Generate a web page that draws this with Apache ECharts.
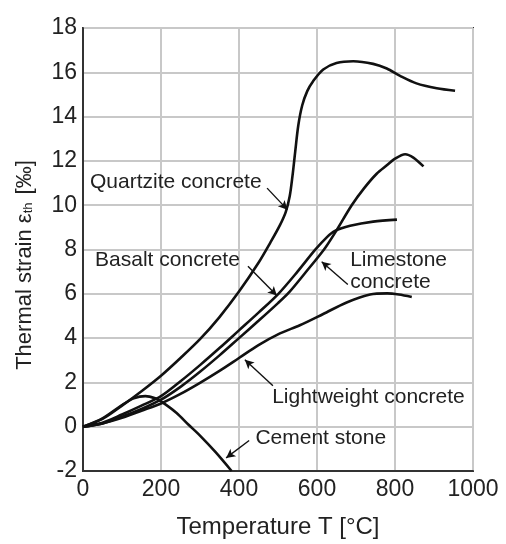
<!DOCTYPE html>
<html>
<head>
<meta charset="utf-8">
<script src="https://cdn.jsdelivr.net/npm/echarts@6/dist/echarts.min.js"></script>
<style>html,body{margin:0;padding:0;background:#fff;}#c{width:506px;height:544px;}</style>
</head>
<body>
<div id="c"></div>
<script>
// ---- data (temperature °C, thermal strain ‰) ----
const xTicks = [0, 200, 400, 600, 800, 1000];
const yTicks = [-2, 0, 2, 4, 6, 8, 10, 12, 14, 16, 18];

const quartziteT = [0, 50, 100, 150, 200, 250, 300, 350, 400, 450, 480, 505, 520, 530, 537, 544, 552, 562, 575, 590, 616, 650, 693, 744, 779, 813, 855, 907, 954];
const quartziteS = [0, 0.35, 0.95, 1.6, 2.3, 3.1, 3.95, 4.95, 6.1, 7.4, 8.3, 9.1, 9.7, 10.4, 11.3, 12.4, 13.6, 14.5, 15.15, 15.6, 16.13, 16.42, 16.5, 16.38, 16.17, 15.84, 15.5, 15.28, 15.17];

const basaltT = [0, 50, 100, 150, 200, 250, 300, 350, 400, 450, 501, 550, 595, 625, 646, 685, 744, 805];
const basaltS = [0, 0.18, 0.55, 0.95, 1.38, 2.05, 2.78, 3.55, 4.35, 5.15, 6.0, 7.0, 7.98, 8.55, 8.84, 9.07, 9.26, 9.35];

const limestoneT = [0, 50, 100, 150, 200, 250, 300, 350, 400, 450, 500, 530, 570, 618, 646, 689, 720, 753, 779, 800, 826, 847, 873];
const limestoneS = [0, 0.15, 0.45, 0.8, 1.22, 1.8, 2.48, 3.22, 4.0, 4.78, 5.58, 6.1, 6.95, 8.0, 8.75, 10.0, 10.75, 11.42, 11.8, 12.1, 12.3, 12.15, 11.75];

const lightweightT = [0, 50, 100, 150, 200, 250, 300, 350, 400, 450, 505, 556, 616, 676, 736, 780, 810, 843];
const lightweightS = [0, 0.15, 0.4, 0.72, 1.05, 1.48, 1.98, 2.52, 3.1, 3.68, 4.21, 4.58, 5.09, 5.61, 5.97, 6.02, 5.97, 5.86];

const cementT = [0, 50, 100, 130, 160, 185, 202, 240, 270, 300, 340, 381];
const cementS = [0, 0.38, 0.98, 1.28, 1.38, 1.28, 1.12, 0.62, 0.1, -0.4, -1.15, -2.0];

// annotation labels, anchored (left-middle) in data units [T, strain]
const labelNames = ['Quartzite concrete', 'Basalt concrete', 'Limestone', 'concrete', 'Lightweight concrete', 'Cement stone'];
const labelAnchors = [[18, 11.04], [31, 7.5], [685, 7.5], [685, 6.53], [485, 1.32], [442, -0.53]];
// leader lines: from [T,s] to [T,s] (arrow at end)
const leaderFrom = [[472, 10.77], [423, 7.24], [679, 6.42], [487, 1.85], [426, -0.62]];
const leaderTo   = [[524, 9.8], [497, 5.92], [612, 7.45], [415, 3.02], [367, -1.41]];

const zip = (a, b) => a.map((v, i) => [v, b[i]]);

const chart = echarts.init(document.getElementById('c'), null, {renderer: 'canvas'});
const FONT = 'Liberation Sans, Arial, sans-serif';
const curve = (name, T, S) => ({
  name: name, type: 'line', data: zip(T, S), smooth: 0.3,
  symbol: 'none', lineStyle: {color: '#111', width: 2.6}, z: 3, silent: true
});

const leaders = leaderFrom.map((f, i) => [{coord: f}, {coord: leaderTo[i]}]);

const series = [
  curve('Quartzite concrete', quartziteT, quartziteS),
  curve('Basalt concrete', basaltT, basaltS),
  curve('Limestone concrete', limestoneT, limestoneS),
  curve('Lightweight concrete', lightweightT, lightweightS),
  curve('Cement stone', cementT, cementS)
];
series[0].markLine = {
  silent: true, symbol: ['none', 'arrow'], symbolSize: [7, 9], animation: false,
  lineStyle: {color: '#111', width: 1.4, type: 'solid'}, label: {show: false},
  data: leaders
};

chart.setOption({
  animation: false,
  backgroundColor: '#fff',
  grid: {left: 83, right: 33, top: 28, bottom: 63, show: true, borderColor: '#333', borderWidth: 2, containLabel: false},
  xAxis: {
    type: 'value', min: xTicks[0], max: xTicks[xTicks.length - 1], interval: 200,
    name: 'Temperature T [°C]', nameLocation: 'middle', nameGap: 44,
    nameTextStyle: {fontFamily: FONT, fontSize: 24, color: '#222'},
    axisLine: {show: true, onZero: false, lineStyle: {color: '#333', width: 2}},
    axisTick: {show: false},
    axisLabel: {fontFamily: FONT, fontSize: 23, color: '#222', margin: 7, formatter: v => String(v)},
    splitLine: {show: true, lineStyle: {color: '#c8c8c8', width: 2}}
  },
  yAxis: {
    type: 'value', min: yTicks[0], max: yTicks[yTicks.length - 1], interval: 2,
    axisLine: {show: true, onZero: false, lineStyle: {color: '#333', width: 2}},
    axisTick: {show: false},
    axisLabel: {fontFamily: FONT, fontSize: 23, color: '#222', margin: 6},
    splitLine: {show: true, lineStyle: {color: '#c8c8c8', width: 2}}
  },
  series: series
});

const graphics = labelNames.map((t, i) => {
  const p = chart.convertToPixel({gridIndex: 0}, labelAnchors[i]);
  return {
    type: 'text', x: p[0], y: p[1], z: 10, silent: true,
    style: {text: t, font: '21px ' + FONT, fill: '#222', textAlign: 'left', textVerticalAlign: 'middle', verticalAlign: 'middle'}
  };
});
// y-axis title (rotated), with subscript
graphics.push({
  type: 'text', x: 25, y: 265, rotation: Math.PI / 2, z: 10, silent: true,
  style: {
    text: '{a|Thermal strain ε}{s|th}{a| [‰]}', textAlign: 'center', textVerticalAlign: 'middle', verticalAlign: 'middle',
    rich: {
      a: {fontFamily: FONT, fontSize: 22, fill: '#222', color: '#222'},
      s: {fontFamily: FONT, fontSize: 13, fill: '#222', color: '#222', padding: [6, 2, 0, 0]}
    }
  }
});
chart.setOption({graphic: graphics});
</script>
</body>
</html>
